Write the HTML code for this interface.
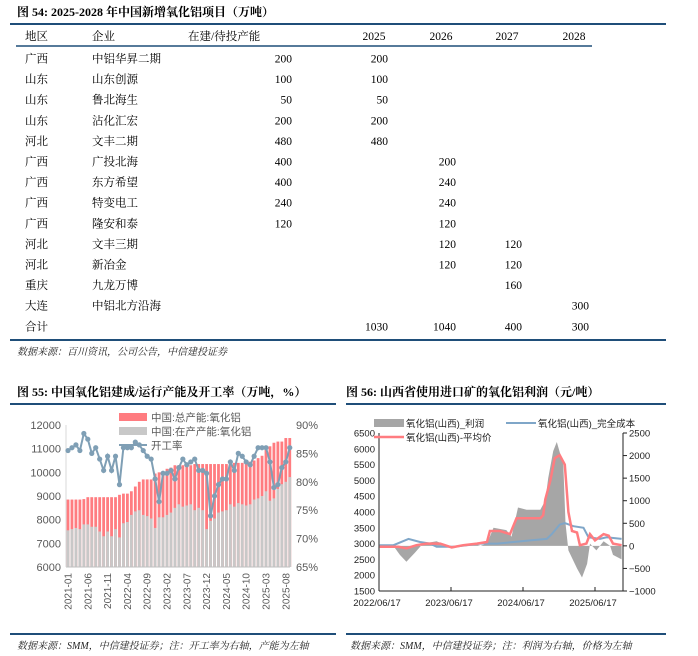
<!DOCTYPE html>
<html><head><meta charset="utf-8">
<style>
body{margin:0;background:#fff;}
svg{display:block;}
.cn{font-family:"Liberation Serif","Noto Serif CJK SC",serif;}
.sans{font-family:"Liberation Sans","Noto Sans CJK SC",sans-serif;}
</style></head>
<body>
<svg id="page" width="698" height="656" viewBox="0 0 698 656" xmlns="http://www.w3.org/2000/svg">
<g id="table" class="cn" font-size="11.5" fill="#000">
  <text x="17" y="16" font-weight="bold" font-size="12">图 54: 2025-2028 年中国新增氧化铝项目（万吨）</text>
  <line x1="10" y1="24" x2="666" y2="24" stroke="#1f4e79" stroke-width="2"/>
  <line x1="16" y1="46" x2="592" y2="46" stroke="#1f4e79" stroke-width="1.5"/>
  <line x1="10" y1="340" x2="666" y2="340" stroke="#1f4e79" stroke-width="2"/>
  <text x="17" y="355" font-size="10" font-style="italic" fill="#222">数据来源：百川资讯，公司公告，中信建投证券</text>
</g>
<g id="c55" class="sans"></g>
<g id="c56" class="sans"></g>
</svg>
<script>
// ---------- table data ----------
const tblRegions=["广西","山东","山东","山东","河北","广西","广西","广西","广西","河北","河北","重庆","大连","合计"];
const tblCompanies=["中铝华昇二期","山东创源","鲁北海生","沾化汇宏","文丰二期","广投北海","东方希望","特变电工","隆安和泰","文丰三期","新冶金","九龙万博","中铝北方沿海",""];
const tblCapacity=["200","100","50","200","480","400","400","240","120","","","","",""];
const tbl2025=["200","100","50","200","480","","","","","","","","","1030"];
const tbl2026=["","","","","","200","240","240","120","120","120","","","1040"];
const tbl2027=["","","","","","","","","","120","120","160","","400"];
const tbl2028=["","","","","","","","","","","","","300","300"];

// ---------- chart 55 data ----------
const c55Months=[];
for(let y=2021;y<=2025;y++){for(let m=1;m<=12;m++){if(y===2025&&m>9)break;c55Months.push(y+"-"+String(m).padStart(2,"0"));}}
const c55Total=[8850,8850,8850,8850,8870,8950,8950,8950,8950,8950,8950,8950,
 8950,9050,9100,9100,9200,9400,9600,9700,9700,9700,9950,10000,
 10050,10150,10200,10300,10300,10300,10300,10300,10350,10350,10350,10350,
 10350,10350,10350,10350,10350,10400,10400,10400,10400,10400,10450,10500,
 10600,10700,10950,11100,11250,11300,11300,11450,11450];
const c55Running=[7550,7600,7650,7600,7800,7800,7700,7700,7500,7300,7500,7300,
 7600,7250,7850,7900,8200,8350,8400,8200,8150,8050,7650,8100,
 8100,8200,8300,8500,8650,8550,8600,8650,8400,8500,8400,7600,
 7950,8050,8300,8350,8400,8650,8550,8700,8650,8600,8650,8850,
 8900,9000,9200,8800,8900,9300,9500,9600,9800];
const c55Rate=[85.5,86,86.5,85.5,88.5,87.5,85,86,84,82,84.5,82,
 84.5,79.5,86,86,86,87,86.5,85.5,84.5,84,80.5,76.5,
 81.5,81.5,82,80.5,82.5,84,83,83.5,84,82,82,81.5,
 74,77.5,79.5,80.5,80.5,83.5,82,85,84.5,83.5,83,84.5,
 86,86,86,83.5,79,79.5,82.5,83.5,86];
const c55LeftTicks=[6000,7000,8000,9000,10000,11000,12000];
const c55RightTicks=[65,70,75,80,85,90];
const c55LabelMonths=["2021-01","2021-06","2021-11","2022-04","2022-09","2023-02","2023-07","2023-12","2024-05","2024-10","2025-03","2025-08"];

// ---------- chart 56 data (dates as decimal years) ----------
const priceDates=[2022.47,2022.73,2022.84,2022.98,2023.12,2023.31,2023.47,2023.63,2023.82,2023.96,2024.0,2024.14,2024.28,2024.37,2024.70,2024.74,2024.77,2024.84,2024.90,2024.97,2025.04,2025.09,2025.14,2025.21,2025.25,2025.34,2025.39,2025.46,2025.58,2025.65,2025.71,2025.83];
const priceValues=[2900,2900,2850,2950,3000,3000,2880,2950,3000,3050,3400,3400,3300,3800,3800,3900,4400,5000,5700,5800,5500,4000,3400,3350,2950,3000,3300,3100,3300,3250,3000,2950];
const costDates=[2022.47,2022.66,2022.82,2022.87,2023.03,2023.17,2023.26,2023.50,2023.68,2023.87,2024.10,2024.33,2024.56,2024.79,2024.86,2024.97,2025.04,2025.16,2025.30,2025.37,2025.53,2025.62,2025.83];
const costValues=[2950,2950,3100,3150,3050,3000,2900,2900,2950,3000,3000,3050,3100,3150,3300,3600,3650,3550,3500,3200,3150,3200,3150];
const profitDates=[2022.47,2022.66,2022.75,2022.84,2022.96,2023.07,2023.26,2023.40,2023.50,2023.77,2023.87,2023.96,2024.05,2024.23,2024.30,2024.39,2024.51,2024.70,2024.77,2024.81,2024.88,2024.93,2025.02,2025.05,2025.09,2025.21,2025.28,2025.35,2025.39,2025.48,2025.58,2025.67,2025.71,2025.83];
const profitValues=[0,0,-200,-350,-150,50,100,0,-50,50,0,50,400,350,200,850,800,800,1000,1500,2100,2300,1800,500,-100,-500,-700,-400,50,-100,100,0,-200,-300];
const c56LeftTicks=[1500,2000,2500,3000,3500,4000,4500,5000,5500,6000,6500];
const c56RightTicks=[-1000,-500,0,500,1000,1500,2000,2500];
const c56XTicks=[2022.46,2023.46,2024.46,2025.46];
const c56XLabels=["2022/06/17","2023/06/17","2024/06/17","2025/06/17"];

const NS="http://www.w3.org/2000/svg";
function mk(tag,attrs,parent,text){const e=document.createElementNS(NS,tag);for(const k in attrs)e.setAttribute(k,attrs[k]);if(text!==undefined)e.textContent=text;parent.appendChild(e);return e;}

// ---------- table ----------
(function(){
 const g=document.getElementById('table');
 let t;
 t=mk('text',{x:25,y:40},g,'地区');
 t=mk('text',{x:92,y:40},g,'企业');
 t=mk('text',{x:188,y:40},g,'在建/待投产能');
 const yrs=["2025","2026","2027","2028"],yx=[374,441,507,574];
 yrs.forEach((s,i)=>{const e=mk('text',{x:yx[i],y:40,'text-anchor':'middle'},g,s);
  
  });
 const cols=[[tblCapacity,292],[tbl2025,388],[tbl2026,456],[tbl2027,522],[tbl2028,589]];
 tblRegions.forEach((r,i)=>{
  const y=62.5+i*20.6;
  const a=mk('text',{x:25,y:y},g,r);
  
  
  const b=mk('text',{x:92,y:y},g,tblCompanies[i]);
  
  
  cols.forEach(c=>{if(c[0][i]){const e=mk('text',{x:c[1],y:y,'text-anchor':'end'},g,c[0][i]);
   
   }});
 });
})();

// ---------- chart 55 ----------
(function(){
 const g=document.getElementById('c55');
 const T=mk('text',{x:17,y:396,'font-size':12,'font-weight':'bold',class:'cn'},g,'图 55: 中国氧化铝建成/运行产能及开工率（万吨，%）');
 
 const L=mk('line',{x1:10,y1:404,x2:336,y2:404,stroke:'#1f4e79','stroke-width':2},g);
 
 const top=425,bot=567;
 const yL=v=>bot-(v-6000)/6000*(bot-top);
 const yR=v=>bot-(v-65)/25*(bot-top);
 const x=i=>68+i*3.96;
 c55LeftTicks.forEach(v=>{const e=mk('text',{x:61,y:yL(v)+4,'text-anchor':'end','font-size':11,fill:'#595959'},g,v);
  });
 c55RightTicks.forEach(v=>{const e=mk('text',{x:296,y:yR(v)+4,'font-size':11,fill:'#595959'},g,v+'%');
  });
 c55Total.forEach((v,i)=>{const r=mk('rect',{x:x(i)-1.4,y:yL(v),width:2.8,height:bot-yL(v),fill:'#ff7c80'},g);
  });
 c55Running.forEach((v,i)=>{const r=mk('rect',{x:x(i)-1.4,y:yL(v),width:2.8,height:bot-yL(v),fill:'#c8c8c8'},g);
  });
 const ax=mk('line',{x1:66,y1:bot,x2:290,y2:bot,stroke:'#bfbfbf'},g);
 
 const ay=mk('line',{x1:66,y1:top,x2:66,y2:bot,stroke:'#d9d9d9'},g);
 
 const pts=c55Rate.map((v,i)=>x(i).toFixed(1)+','+yR(v).toFixed(1)).join(' ');
 const pl=mk('polyline',{points:pts,fill:'none',stroke:'#7f9fb5','stroke-width':2},g);
 
 c55Rate.forEach((v,i)=>{const c=mk('circle',{cx:x(i),cy:yR(v),r:2.6,fill:'#7f9fb5'},g);
  });
 c55LabelMonths.forEach(m=>{const i=c55Months.indexOf(m);const xx=x(i)+3.5;
  const e=mk('text',{x:xx,y:573,'text-anchor':'end','font-size':10,fill:'#595959',transform:'rotate(-90 '+xx+' 573)'},g,m);
  });
 // legend
 let e=mk('rect',{x:119,y:413,width:28,height:8,fill:'#ff7c80'},g);
 e=mk('text',{x:151,y:421,'font-size':10.5,fill:'#595959'},g,'中国:总产能:氧化铝');
 e=mk('rect',{x:119,y:427,width:28,height:8,fill:'#c8c8c8'},g);
 e=mk('text',{x:151,y:435,'font-size':10.5,fill:'#595959'},g,'中国:在产产能:氧化铝');
 e=mk('line',{x1:119,y1:445,x2:147,y2:445,stroke:'#7f9fb5','stroke-width':2},g);
 e=mk('text',{x:151,y:449,'font-size':10.5,fill:'#595959'},g,'开工率');
 e=mk('line',{x1:10,y1:634,x2:336,y2:634,stroke:'#1f4e79','stroke-width':2},g);
 e=mk('text',{x:17,y:649,'font-size':10,'font-style':'italic',fill:'#222',class:'cn'},g,'数据来源：SMM，中信建投证券；注：开工率为右轴，产能为左轴');
})();

// ---------- chart 56 ----------
(function(){
 const g=document.getElementById('c56');
 let e=mk('text',{x:346,y:396,'font-size':12,'font-weight':'bold',class:'cn'},g,'图 56: 山西省使用进口矿的氧化铝利润（元/吨）');
 
 e=mk('line',{x1:346,y1:404,x2:666,y2:404,stroke:'#1f4e79','stroke-width':2},g);
 
 const top=433,bot=591,l=379,r=623;
 const yL=v=>bot-(v-1500)/5000*(bot-top);
 const yR=v=>bot-(v+1000)/3500*(bot-top);
 const xd=d=>l+(d-2022.46)*72;
 c56LeftTicks.forEach(v=>{const t=mk('text',{x:375,y:yL(v)+3.5,'text-anchor':'end','font-size':9.5,fill:'#222'},g,v);
  });
 c56RightTicks.forEach(v=>{
  const tk=mk('line',{x1:r,y1:yR(v),x2:r+4,y2:yR(v),stroke:'#222'},g);
  
  const t=mk('text',{x:r+6,y:yR(v)+3.5,'font-size':9.5,fill:'#222'},g,(v<0?'\u2212'+(-v):v));
  });
 // area
 const z=yR(0);
 let d='M'+xd(profitDates[0]).toFixed(1)+','+z;
 profitDates.forEach((dt,i)=>{d+=' L'+xd(dt).toFixed(1)+','+yR(profitValues[i]).toFixed(1);});
 d+=' L'+xd(profitDates[profitDates.length-1]).toFixed(1)+','+z+' Z';
 e=mk('path',{d:d,fill:'#a6a6a6'},g);
 e=mk('polyline',{points:costDates.map((dt,i)=>xd(dt).toFixed(1)+','+yL(costValues[i]).toFixed(1)).join(' '),fill:'none',stroke:'#7fa6c8','stroke-width':2},g);
 
 e=mk('polyline',{points:priceDates.map((dt,i)=>xd(dt).toFixed(1)+','+yL(priceValues[i]).toFixed(1)).join(' '),fill:'none',stroke:'#ff7c80','stroke-width':2.5},g);
 
 e=mk('line',{x1:l,y1:top,x2:l,y2:bot,stroke:'#222'},g);
 e=mk('line',{x1:r,y1:top,x2:r,y2:bot,stroke:'#222'},g);
 e=mk('line',{x1:l,y1:bot,x2:r,y2:bot,stroke:'#222'},g);
 c56XTicks.forEach((dt,i)=>{
  const tk=mk('line',{x1:xd(dt),y1:bot,x2:xd(dt),y2:bot-4,stroke:'#222'},g);
  
  const t=mk('text',{x:xd(dt)-2,y:606,'text-anchor':'middle','font-size':9.5,fill:'#222'},g,c56XLabels[i]);
  });
 // legend
 e=mk('rect',{x:374,y:419,width:30,height:8,fill:'#a6a6a6'},g);
 e=mk('text',{x:406,y:427,'font-size':9.5,fill:'#222'},g,'氧化铝(山西)_利润');
 e=mk('line',{x1:506,y1:423,x2:536,y2:423,stroke:'#7fa6c8','stroke-width':2},g);
 e=mk('text',{x:538,y:427,'font-size':9.5,fill:'#222'},g,'氧化铝(山西)_完全成本');
 e=mk('line',{x1:374,y1:437,x2:404,y2:437,stroke:'#ff7c80','stroke-width':2.5},g);
 e=mk('text',{x:406,y:441,'font-size':9.5,fill:'#222'},g,'氧化铝(山西)-平均价');
 e=mk('line',{x1:346,y1:634,x2:666,y2:634,stroke:'#1f4e79','stroke-width':2},g);
 e=mk('text',{x:350,y:649,'font-size':10,'font-style':'italic',fill:'#222',class:'cn'},g,'数据来源：SMM，中信建投证券；注：利润为右轴，价格为左轴');
})();
</script>
</body></html>
